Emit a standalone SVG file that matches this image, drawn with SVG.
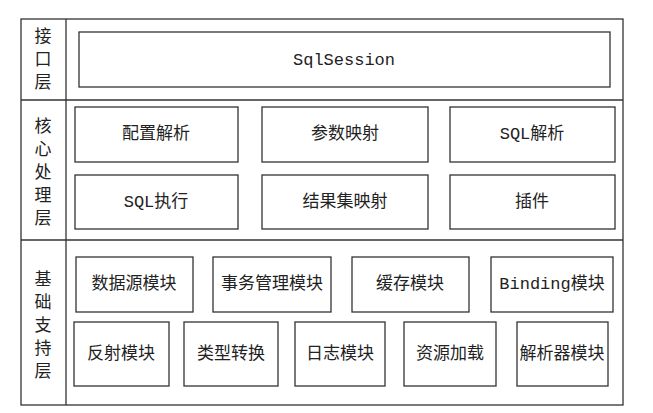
<svg xmlns="http://www.w3.org/2000/svg" width="653" height="413" viewBox="0 0 653 413">
<style>
.b{fill:#fff;stroke:#333;stroke-width:1.3}
.l{stroke:#333;stroke-width:1.3;fill:none}
text{font-family:"Liberation Mono","Noto Sans CJK SC",monospace;font-size:17px;fill:#222;text-anchor:middle;dominant-baseline:central}
</style>
<rect width="653" height="413" fill="#fff"/>
<g id="frame">
<rect class="l" x="21" y="19" width="602" height="386"/>
<line class="l" x1="66" y1="19" x2="66" y2="405"/>
<line class="l" x1="21" y1="100" x2="623" y2="100"/>
<line class="l" x1="21" y1="240" x2="623" y2="240"/>
<text x="43" y="37">接</text><text x="43" y="60">口</text><text x="43" y="83">层</text>
<text x="43" y="127">核</text><text x="43" y="150">心</text><text x="43" y="173">处</text><text x="43" y="196">理</text><text x="43" y="219">层</text>
<text x="43" y="280">基</text><text x="43" y="303">础</text><text x="43" y="326">支</text><text x="43" y="349">持</text><text x="43" y="372">层</text>
</g>
<g id="n1"><rect class="b" x="79" y="32" width="531" height="55"/><text x="344" y="60">SqlSession</text></g>
<g id="n2"><rect class="b" x="75" y="107" width="163" height="55"/><text x="156" y="134">配置解析</text></g>
<g id="n3"><rect class="b" x="262" y="107" width="166" height="55"/><text x="345" y="134">参数映射</text></g>
<g id="n4"><rect class="b" x="450" y="107" width="165" height="55"/><text x="532" y="134">SQL解析</text></g>
<g id="n5"><rect class="b" x="75" y="175" width="163" height="54"/><text x="156" y="202">SQL执行</text></g>
<g id="n6"><rect class="b" x="262" y="175" width="166" height="54"/><text x="345" y="202">结果集映射</text></g>
<g id="n7"><rect class="b" x="450" y="175" width="165" height="54"/><text x="532" y="202">插件</text></g>
<g id="n8"><rect class="b" x="76" y="257" width="117" height="55"/><text x="134" y="284">数据源模块</text></g>
<g id="n9"><rect class="b" x="213" y="257" width="118" height="55"/><text x="272" y="284">事务管理模块</text></g>
<g id="n10"><rect class="b" x="352" y="257" width="117" height="55"/><text x="410" y="284">缓存模块</text></g>
<g id="n11"><rect class="b" x="491" y="257" width="122" height="55"/><text x="552" y="284">Binding模块</text></g>
<g id="n12"><rect class="b" x="74" y="322" width="95" height="64"/><text x="121" y="354">反射模块</text></g>
<g id="n13"><rect class="b" x="184" y="322" width="94" height="64"/><text x="231" y="354">类型转换</text></g>
<g id="n14"><rect class="b" x="295" y="322" width="90" height="64"/><text x="340" y="354">日志模块</text></g>
<g id="n15"><rect class="b" x="404" y="322" width="92" height="64"/><text x="450" y="354">资源加载</text></g>
<g id="n16"><rect class="b" x="517" y="322" width="91" height="64"/><text x="562" y="354">解析器模块</text></g>
<g id="connectors"></g>
</svg>
